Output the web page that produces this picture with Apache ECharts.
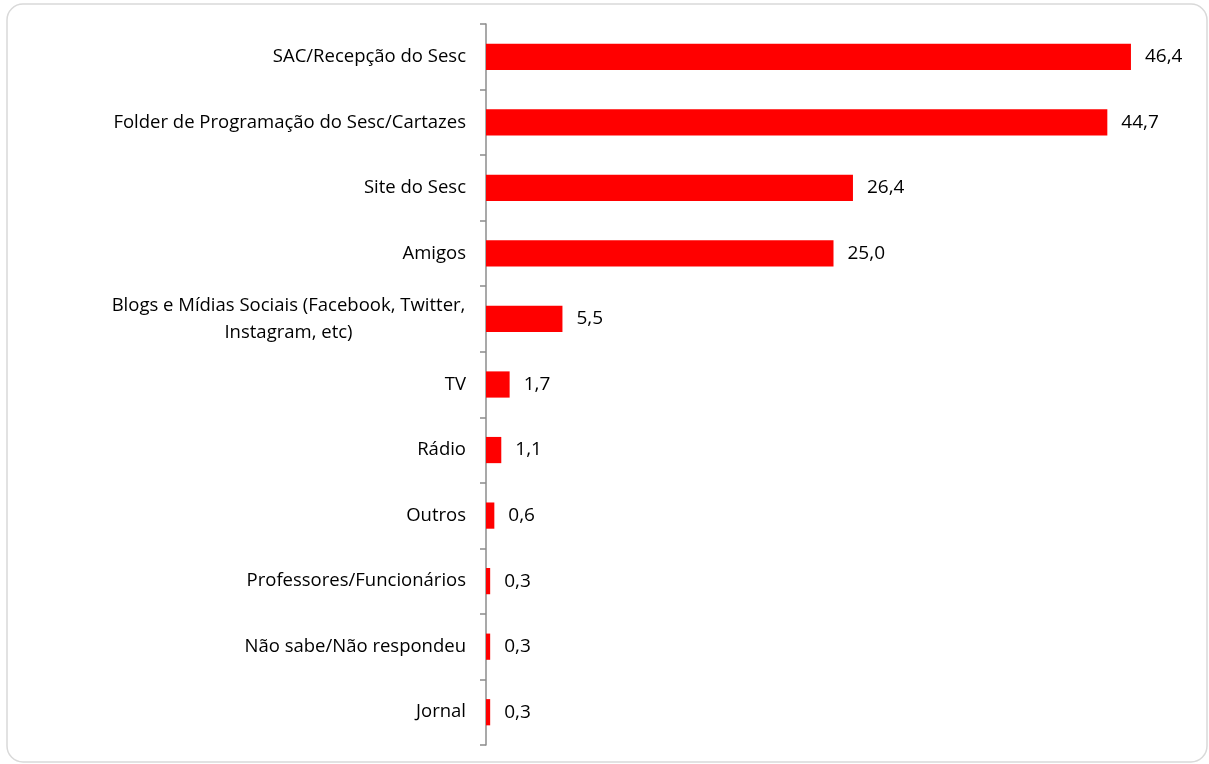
<!DOCTYPE html>
<html>
<head>
<meta charset="utf-8">
<script src="https://cdn.jsdelivr.net/npm/echarts@6/dist/echarts.min.js"></script>
<style>
  html, body { margin: 0; padding: 0; background: #fff; }
  #chart { width: 1209px; height: 764px; }
</style>
</head>
<body>
<div id="chart"></div>
<script>
// categories, top to bottom as in the picture
const categories = [
  'SAC/Recepção do Sesc',
  'Folder de Programação do Sesc/Cartazes',
  'Site do Sesc',
  'Amigos',
  'Blogs e Mídias Sociais (Facebook, Twitter,\nInstagram, etc)',
  'TV',
  'Rádio',
  'Outros',
  'Professores/Funcionários',
  'Não sabe/Não respondeu',
  'Jornal'
]
const values = [46.4, 44.7, 26.4, 25.0, 5.5, 1.7, 1.1, 0.6, 0.3, 0.3, 0.3]

const chart = echarts.init(document.getElementById('chart'))

const option = {
  animation: false,
  textStyle: { fontFamily: 'Open Sans' },
  graphic: [
    {
      type: 'rect',
      shape: { x: 7, y: 4, width: 1200, height: 758, r: 16 },
      style: { fill: 'none', stroke: '#d9d9d9', lineWidth: 1.5 },
      z: -1
    }
  ],
  grid: { left: 486, right: 28, top: 24, bottom: 19 },
  xAxis: {
    type: 'value',
    min: 0,
    max: 50,
    show: false
  },
  yAxis: {
    type: 'category',
    inverse: true,
    data: categories,
    axisLine: { show: true, lineStyle: { color: '#8c8c8c', width: 1.5 } },
    axisTick: { show: true, length: 6, lineStyle: { color: '#8c8c8c', width: 1.5 } },
    axisLabel: {
      color: '#000',
      fontFamily: 'Open Sans',
      fontSize: 18.5,
      margin: 20,
      lineHeight: 27,
      // two-line label: lines centred on each other, block right-aligned
      formatter: v => v.includes('\n')
        ? v.split('\n').map(s => '{m|' + s + '}').join('\n')
        : v,
      rich: {
        m: { width: 355, align: 'center', fontSize: 18.5, lineHeight: 27, color: '#000' }
      }
    }
  },
  series: [
    {
      type: 'bar',
      data: values,
      barCategoryGap: '60%',
      itemStyle: { color: '#ff0000' },
      label: {
        show: true,
        position: 'right',
        distance: 14,
        color: '#000',
        fontFamily: 'Open Sans',
        fontSize: 19,
        formatter: p => p.value.toFixed(1).replace('.', ',')
      }
    }
  ]
}

chart.setOption(option)
</script>
</body>
</html>
